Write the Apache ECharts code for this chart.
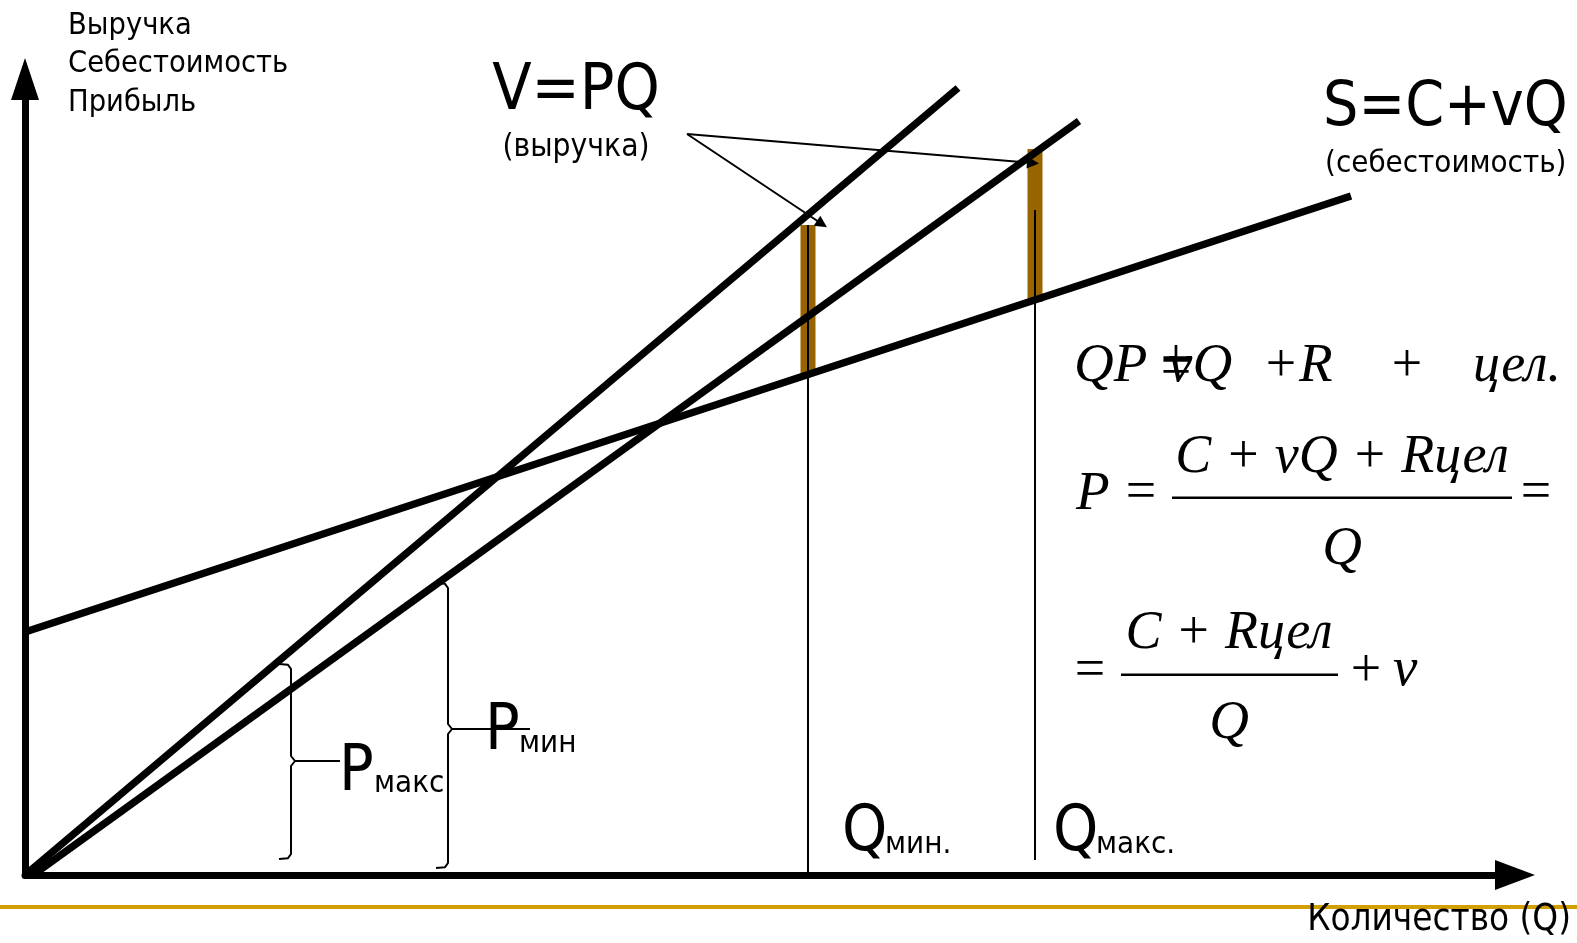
<!DOCTYPE html>
<html>
<head>
<meta charset="utf-8">
<script src="https://cdn.jsdelivr.net/npm/echarts@6/dist/echarts.min.js"></script>
<style>
  html, body { margin: 0; padding: 0; background: #fff; }
  #chart { width: 1577px; height: 943px; }
</style>
</head>
<body>
<div id="chart"></div>
<script>
// chart units: Q along x, money along y
const revenueHigh = [[0, 0], [93.3, 78.7]];      // V = PQ at P макс
const revenueLow = [[0.8, 0], [105.4, 75.4]];    // V = PQ at P мин
const costLine = [[0, 24.3], [132.6, 67.9]];     // S = C + vQ
const qMarks = [78.3, 101.0];                    // Q мин., Q макс.
const barLow = [49.9, 57.3];
const barHigh = [65.0, 72.6];
const guideTop = [65.0, 66.5];
const guideBottom = [0, 1.5];
const pointerFrom = [66.2, 74.1];
const pointerTo = [[79.7, 65.1], [100.8, 71.2]];
const braceQ = [26.6, 42.3];
const braceTop = [21.1, 29.2];
const braceMid = [11.4, 14.6];
const braceBottom = [1.6, 0.7];
const braceTick = [31.5, 50.5];

const chart = echarts.init(document.getElementById('chart'));

const SANS = '"DejaVu Sans Condensed", "DejaVu Sans", sans-serif';
const SERIF = '"Liberation Serif", "DejaVu Serif", serif';

const lineSeries = (data, width, color, z) => ({
  type: 'line',
  data: data,
  symbol: 'none',
  silent: true,
  z: z,
  lineStyle: { width: width, color: color, cap: 'butt' }
});

const bracePoints = (i) => {
  const q = braceQ[i], t = braceTop[i], m = braceMid[i], b = braceBottom[i];
  return [
    [q - 1.2, t], [q - 0.3, t - 0.08], [q, t - 0.5], [q, m + 0.5], [q + 0.4, m],
    [braceTick[i], m], [q + 0.4, m],
    [q, m - 0.5], [q, b + 0.5], [q - 0.3, b + 0.08], [q - 1.2, b]
  ];
};

const series = [];
qMarks.forEach((q, i) => {
  series.push(lineSeries([[q, barLow[i]], [q, barHigh[i]]], 15, '#986400', 2));
  series.push(lineSeries([[q, guideBottom[i]], [q, guideTop[i]]], 2, '#000', 3));
});
series.push(lineSeries(revenueHigh, 7.5, '#000', 5));
series.push(lineSeries(revenueLow, 7.5, '#000', 5));
series.push(lineSeries(costLine, 7.5, '#000', 5));
series.push(lineSeries(bracePoints(0), 2, '#000', 4));
series.push(lineSeries(bracePoints(1), 2, '#000', 4));
series.push({
  type: 'lines',
  coordinateSystem: 'cartesian2d',
  silent: true,
  z: 6,
  symbol: ['none', 'triangle'],
  symbolSize: 12,
  lineStyle: { width: 2, color: '#000', opacity: 1 },
  data: pointerTo.map(p => ({ coords: [pointerFrom, p] }))
});

const txt = (text, x, y, font, align, fill) => ({
  type: 'text', x: x, y: y, z: 20, silent: true,
  style: { text: text, font: font, fill: fill || '#000', align: align || 'left', verticalAlign: 'middle' }
});
const sans = (s) => s + 'px ' + SANS;
const ital = (s) => 'italic ' + s + 'px ' + SERIF;
const up = (s) => s + 'px ' + SERIF;

const graphic = [
  { type: 'rect', shape: { x: 0, y: 905, width: 1577, height: 4 }, style: { fill: '#d29e00' }, z: 1, silent: true },
  txt('Выручка', 68, 26, sans(30.5)),
  txt('Себестоимость', 68, 64.5, sans(30.5)),
  txt('Прибыль', 68, 103.5, sans(30.5)),
  txt('V=PQ', 576, 92.5, sans(64), 'center'),
  txt('(выручка)', 576, 148, sans(31.5), 'center'),
  txt('S=C+vQ', 1323, 108.5, sans(62)),
  txt('(себестоимость)', 1325, 164, sans(31)),
  txt('P', 339, 773, sans(64)),
  txt('макс', 374, 784, sans(31)),
  txt('P', 485, 732, sans(64)),
  txt('мин', 519, 743.5, sans(31)),
  txt('Q', 842, 833, sans(64)),
  txt('мин.', 885, 844.5, sans(31)),
  txt('Q', 1053, 833, sans(64)),
  txt('макс.', 1096, 844.5, sans(31)),
  txt('Количество (Q)', 1571, 921, sans(36.5), 'right'),
  // formula line 1
  txt('QP', 1074, 367, ital(55)),
  txt('=', 1176, 370, up(54), 'center'),
  txt('+', 1176, 362, up(54), 'center'),
  txt('vQ', 1168, 367, ital(55)),
  txt('+', 1281, 367, up(54), 'center'),
  txt('R', 1299, 367, ital(55)),
  txt('+', 1407, 367, up(54), 'center'),
  txt('цел.', 1473, 367, ital(54)),
  // formula line 2
  txt('P', 1076, 495, ital(55)),
  txt('=', 1141, 494, up(54), 'center'),
  txt('C + vQ + Rцел', 1342, 458, ital(54), 'center'),
  { type: 'rect', shape: { x: 1172, y: 496.5, width: 340, height: 2.5 }, style: { fill: '#000' }, z: 20, silent: true },
  txt('Q', 1342, 550, ital(55), 'center'),
  txt('=', 1536, 494, up(54), 'center'),
  // formula line 3
  txt('=', 1090, 672, up(54), 'center'),
  txt('C + Rцел', 1229, 634, ital(54), 'center'),
  { type: 'rect', shape: { x: 1121, y: 673.5, width: 217, height: 2.5 }, style: { fill: '#000' }, z: 20, silent: true },
  txt('Q', 1229, 724, ital(55), 'center'),
  txt('+', 1366, 672, up(54), 'center'),
  txt('v', 1393, 671, ital(55))
];

const axisCommon = {
  type: 'value',
  min: 0,
  axisTick: { show: false },
  axisLabel: { show: false },
  splitLine: { show: false }
};

chart.setOption({
  backgroundColor: '#fff',
  animation: false,
  grid: { left: 25, right: 62, top: 79, bottom: 68 },
  xAxis: Object.assign({}, axisCommon, {
    max: 149,
    axisLine: { show: true, onZero: false, symbol: ['none', 'triangle'], symbolSize: [30, 40], lineStyle: { color: '#000', width: 7 } }
  }),
  yAxis: Object.assign({}, axisCommon, {
    max: 79.6,
    axisLine: { show: true, onZero: false, symbol: ['none', 'triangle'], symbolSize: [28, 42], lineStyle: { color: '#000', width: 7 } }
  }),
  series: series,
  graphic: graphic
});
</script>
</body>
</html>
